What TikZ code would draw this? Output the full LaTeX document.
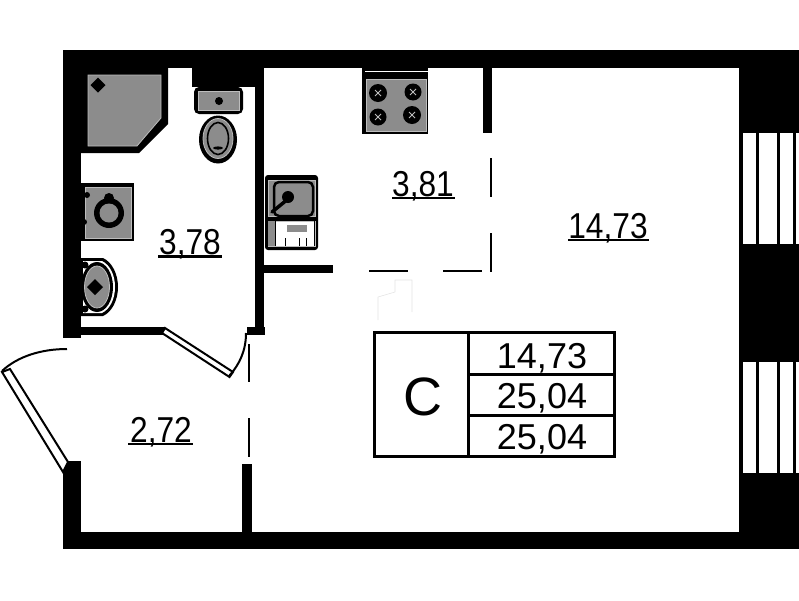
\documentclass[tikz,border=0pt]{standalone}
\usepackage{fontspec}
\setmainfont{Liberation Sans}
\definecolor{fixgray}{HTML}{8C8C8C}
\definecolor{fixedge}{HTML}{BDBDBD}
\tikzset{
  wall/.style={fill=black,draw=none},
  fixture/.style={fill=fixgray,draw=fixedge,line width=0.8pt},
  gapline/.style={line width=2pt},
  leaf/.style={fill=white,draw=black,line width=2pt},
  swing/.style={line width=2pt},
  area/.style={font=\fontsize{36}{36}\selectfont,inner sep=0pt,anchor=base,xscale=0.88},
  cell/.style={font=\fontsize{36}{36}\selectfont,inner sep=0pt,anchor=base},
  tablerule/.style={line width=3pt}
}
\begin{document}
\begin{tikzpicture}[x=1pt,y=-1pt]
  \useasboundingbox (0,0) rectangle (799,600);
  % walls
  \fill[wall] (63,50) rectangle (799,68);
  \fill[wall] (63,50) rectangle (81,338);
  \fill[wall] (63,461) rectangle (81,549);
  \fill[wall] (63,532) rectangle (799,549);
  \fill[wall] (739,50) rectangle (799,549);
  \fill[wall] (192,50) rectangle (264,87);
  \fill[wall] (255,68) rectangle (264,334);
  \fill[wall] (247,327) rectangle (265,335);
  \fill[wall] (81,327) rectangle (165,335);
  \fill[wall] (264,265) rectangle (333,273);
  \fill[wall] (483,68) rectangle (492,133);
  \fill[wall] (242,464) rectangle (252,532);
  % windows
  \fill[white] (743,133) rectangle (756,244);
  \fill[white] (759,133) rectangle (777,244);
  \fill[white] (780,133) rectangle (793,244);
  \fill[white] (796,133) rectangle (799,244);
  \fill[white] (743,362) rectangle (756,473);
  \fill[white] (759,362) rectangle (777,473);
  \fill[white] (780,362) rectangle (793,473);
  \fill[white] (796,362) rectangle (799,473);
  % doors
  \draw[leaf] (165,328) -- (233,372) -- (229.5,377) -- (162,333) -- cycle;
  \draw[swing] (229,376) .. controls (240,364) and (246,350) .. (246,333);
  \draw[leaf] (2,372) -- (10,369) -- (68,462) -- (63,472) -- cycle;
  \draw[swing] (2,371) .. controls (18,356) and (42,349) .. (67,349);
  % dashes
  \draw[gapline] (249,344) -- (249,382);
  \draw[gapline] (249,418) -- (249,457);
  \draw[gapline] (491,158) -- (491,197);
  \draw[gapline] (491,233) -- (491,272);
  \draw[gapline] (369,271) -- (408,271);
  \draw[gapline] (443,271) -- (482,271);
  \draw[fixedge!40,line width=0.6pt] (378,320) -- (378,297) -- (395,292) -- (395,280) -- (412,280) -- (412,312);
  % shower
  \fill[wall] (81,68) -- (168,68) -- (168,124) -- (139,153) -- (81,153) -- cycle;
  \draw[fixture] (88,75) -- (161,75) -- (161,118) -- (137,146) -- (88,146) -- cycle;
  \fill[wall] (98,77.5) -- (105.5,85) -- (98,92.5) -- (90.5,85) -- cycle;
  % toilet
  \fill[wall,rounded corners=5pt] (194,87) rectangle (243,114);
  \draw[fixture] (198,91) rectangle (239,110);
  \fill[wall] (219,101) circle (4);
  \fill[wall] (218,139.5) ellipse (19 and 24);
  \draw[fixture] (218,138.5) ellipse (15 and 20);
  \draw[line width=1.6pt] (218,138.5) ellipse (10.5 and 16);
  \fill[wall] (218,148) ellipse (5 and 1.6);
  % washer
  \fill[wall] (81,183) rectangle (134,241);
  \draw[fixture] (85,187) rectangle (131,238);
  \fill[wall] (109,198) circle (5);
  \fill[wall] (109,213) circle (15);
  \fill[fixgray] (109,213) circle (9.5);
  \fill[wall] (87,195) circle (3);
  \fill[wall] (84,222) circle (3);
  % basin
  \fill[wall] (81,258) -- (103,258) .. controls (112,262) and (118,274) .. (118,287) .. controls (118,300) and (112,312) .. (103,316) -- (81,316) -- cycle;
  \fill[white] (83,261) -- (102,261) .. controls (110,265) and (115,275) .. (115,287) .. controls (115,299) and (110,309) .. (102,313) -- (83,313) -- cycle;
  \fill[wall] (97,287) ellipse (16 and 25);
  \draw[fixture] (97,287) ellipse (12.5 and 21);
  \fill[wall] (95,279) -- (103,287) -- (95,295) -- (87,287) -- cycle;
  \fill[wall] (85,265) circle (3.5);
  \fill[wall] (85,309) circle (3.5);
  % sink
  \fill[wall,rounded corners=3pt] (265,175) rectangle (318,250);
  \draw[fixture] (268,180) rectangle (315,216);
  \draw[fixture,fill=white] (268,221) rectangle (315,246);
  \fill[fixgray] (268,221) rectangle (275,246);
  \draw[line width=2.5pt,fill=fixgray,rounded corners=5pt] (274,182) rectangle (313,216);
  \fill[wall] (288,197) circle (6);
  \draw[line width=3.5pt,line cap=round] (288,199) -- (272,212);
  \draw[line width=1pt] (275,221) -- (275,246);
  \draw[line width=1pt] (314,221) -- (314,246);
  \fill[fixgray] (287,225) rectangle (307,232);
  \draw[line width=1pt] (285,238) -- (285,246);
  \draw[line width=1pt] (299,238) -- (299,246);
  \draw[line width=1pt] (306,238) -- (306,246);
  % stove
  \fill[wall] (362,68) rectangle (428,134);
  \draw[white,line width=0.8pt] (365,71) -- (428,71);
  \draw[fixture] (366,79) rectangle (426,131);
  \foreach \bx/\by/\br in {378/93/9,413/92/8.5,378/117/8.5,412/115/9}{
    \fill[wall] (\bx,\by) circle (\br);
    \draw[fixedge,line width=1pt] (\bx-3,\by-3) -- (\bx+3,\by+3) (\bx-3,\by+3) -- (\bx+3,\by-3);
  }
  % labels
  \node[area] (bath) at (190,254) {3,78};
  \draw[line width=2.5pt] (158,256.5) -- (222,256.5);
  \node[area] (kitchen) at (423,196) {3,81};
  \draw[line width=2.5pt] (392,198) -- (455,198);
  \node[area] (hall) at (161,442) {2,72};
  \draw[line width=2.5pt] (128,444) -- (193,444);
  \node[area] (room) at (608,238) {14,73};
  \draw[line width=2.5pt] (568,240) -- (649,240);
  % table
  \draw[tablerule] (374.5,332.5) rectangle (614.5,456.5);
  \draw[tablerule] (468,332.5) -- (468,456.5);
  \draw[tablerule] (468,374) -- (614.5,374);
  \draw[tablerule] (468,415) -- (614.5,415);
  \node[inner sep=0pt,font=\fontsize{54}{54}\selectfont] (type) at (423,397) {С};
  \node[cell] (living) at (542,368) {14,73};
  \node[cell] (total) at (542,408) {25,04};
  \node[cell] (full) at (542,449) {25,04};
\end{tikzpicture}
\end{document}
